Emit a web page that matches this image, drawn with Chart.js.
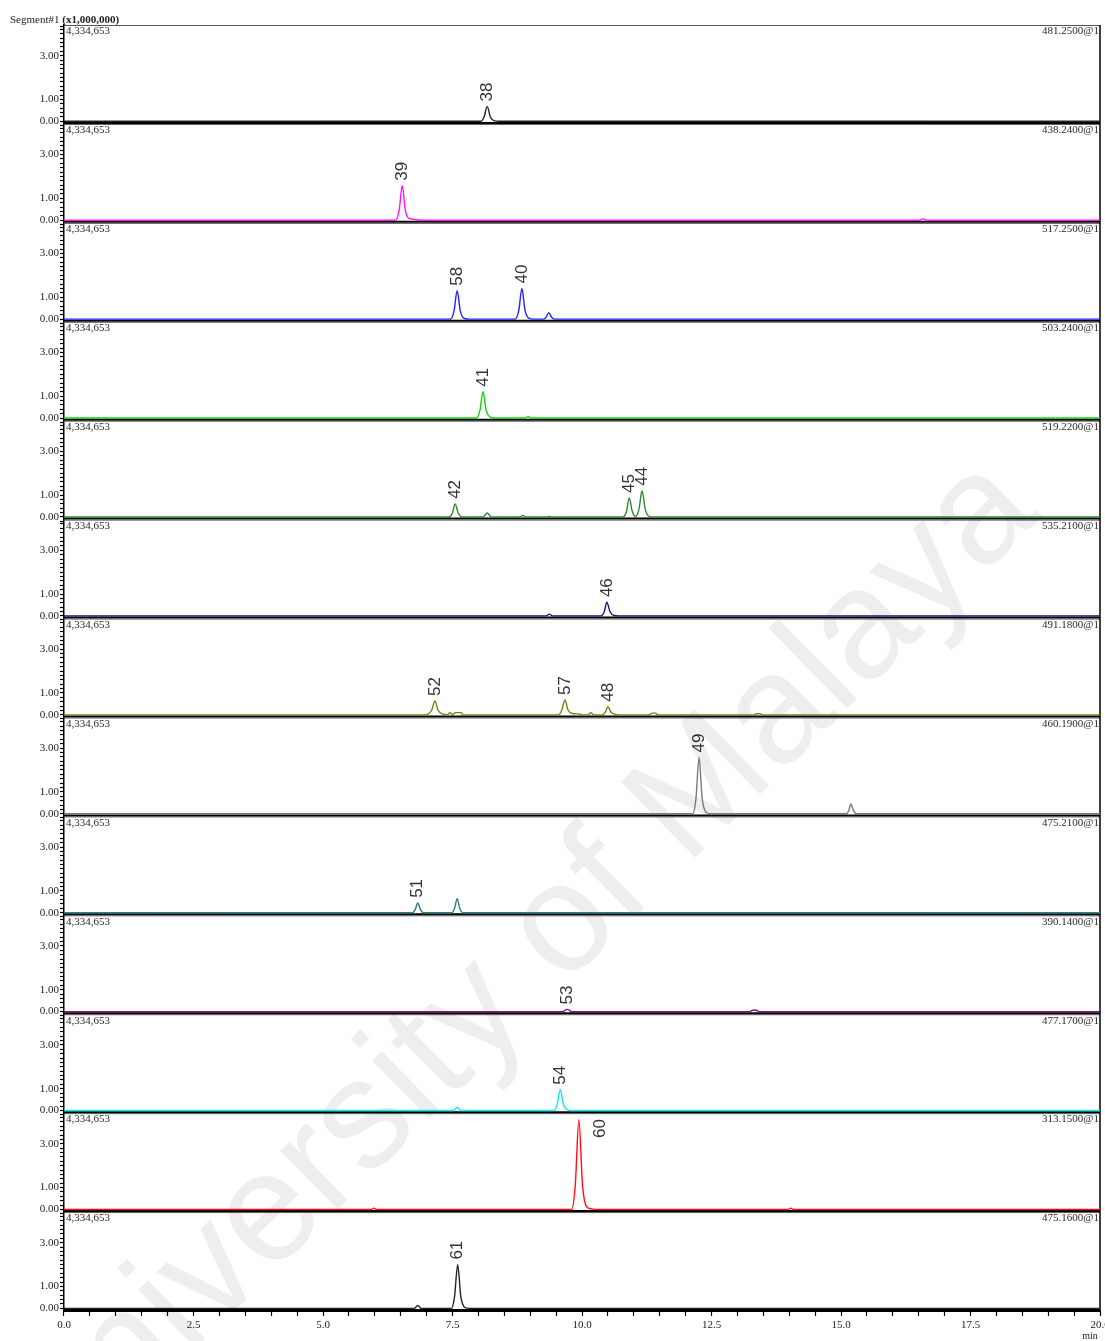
<!DOCTYPE html>
<html>
<head>
<meta charset="utf-8">
<script src="https://cdn.jsdelivr.net/npm/chart.js@4/dist/chart.umd.min.js"></script>
<style>
  html, body { margin: 0; padding: 0; background: #fff; }
  #wrap { width: 1105px; height: 1341px; }
</style>
</head>
<body>
<div id="wrap"><canvas id="chrom" width="1105" height="1341"></canvas></div>
<script>
// ---- time axis (minutes) and intensity axis (x1,000,000 counts) ----
const X_TICK_VALUES = [0, 2.5, 5, 7.5, 10, 12.5, 15, 17.5, 20];
const X_TICK_LABELS = ['0.0', '2.5', '5.0', '7.5', '10.0', '12.5', '15.0', '17.5', '20.0'];
const Y_TICK_VALUES = [0, 1, 3];
const Y_TICK_LABELS = ['0.00', '1.00', '3.00'];
const Y_FULL_SCALE = 4.334653;
const FULL_SCALE_LABEL = '4,334,653';

// ---- channels (m/z @ segment), top to bottom ----
const CHANNELS = ['481.2500@1', '438.2400@1', '517.2500@1', '503.2400@1', '519.2200@1', '535.2100@1',
                  '491.1800@1', '460.1900@1', '475.2100@1', '390.1400@1', '477.1700@1', '313.1500@1', '475.1600@1'];
const COLORS = ['#222222', '#ff10ff', '#2323ff', '#10d010', '#2f8a2f', '#15157a',
                '#7f7f10', '#7a7a7a', '#2a7f7f', '#7f107f', '#10e8f0', '#ff1010', '#222222'];

// ---- traces: [time (min), intensity (x1e6)] ----
const trace481 = [[0,0],[8.04,0],[8.11,0.2],[8.17,0.68],[8.23,0.2],[8.31,0.02],[8.4,0],[20,0]];
const trace438 = [[0,0],[6.40,0],[6.47,0.45],[6.53,1.58],[6.59,0.45],[6.66,0.08],[6.76,0.04],[6.86,0],
                  [16.50,0],[16.58,0.06],[16.66,0],[20,0]];
const trace517 = [[0,0],[7.46,0],[7.53,0.38],[7.59,1.30],[7.65,0.38],[7.73,0.03],[7.82,0],
                  [8.71,0],[8.78,0.4],[8.84,1.40],[8.90,0.4],[8.98,0.03],[9.06,0],
                  [9.26,0],[9.31,0.1],[9.36,0.30],[9.41,0.1],[9.47,0],[20,0]];
const trace503 = [[0,0],[7.96,0],[8.03,0.35],[8.09,1.20],[8.15,0.35],[8.23,0.04],[8.32,0],
                  [8.90,0],[8.96,0.06],[9.02,0],[20,0]];
const trace519 = [[0,0],[7.43,0],[7.50,0.18],[7.55,0.60],[7.61,0.18],[7.68,0],[8.09,0],[8.17,0.18],[8.25,0],
                  [8.80,0],[8.86,0.07],[8.92,0],[9.32,0],[9.37,0.03],[9.42,0],
                  [10.79,0],[10.86,0.26],[10.91,0.87],[10.97,0.26],[11.03,0.02],[11.10,0.36],[11.16,1.20],
                  [11.22,0.36],[11.30,0.02],[11.38,0],[20,0]];
const trace535 = [[0,0],[9.31,0],[9.37,0.08],[9.43,0],[10.36,0],[10.43,0.19],[10.48,0.63],[10.54,0.19],
                  [10.62,0.02],[10.7,0],[20,0]];
const trace491 = [[0,0],[6.95,0],[7.04,0.05],[7.10,0.22],[7.16,0.63],[7.22,0.22],[7.30,0.04],[7.40,0],
                  [7.45,0.1],[7.50,0],[7.56,0.1],[7.66,0.1],[7.70,0],[9.55,0],[9.61,0.22],[9.67,0.68],
                  [9.73,0.22],[9.82,0.06],[9.95,0.04],[10.0,0],[10.12,0],[10.17,0.1],[10.22,0],
                  [10.40,0],[10.45,0.12],[10.50,0.37],[10.56,0.12],[10.64,0.02],[10.70,0],
                  [11.30,0],[11.35,0.08],[11.42,0.08],[11.46,0],[13.32,0],[13.37,0.05],[13.44,0.05],[13.48,0],[20,0]];
const trace460 = [[0,0],[12.14,0],[12.20,0.7],[12.26,2.57],[12.32,0.7],[12.40,0.06],[12.5,0],
                  [15.10,0],[15.15,0.14],[15.19,0.45],[15.24,0.14],[15.30,0],[20,0]];
const trace475a = [[0,0],[6.73,0],[6.78,0.14],[6.83,0.45],[6.88,0.14],[6.94,0],
                   [7.49,0],[7.54,0.2],[7.59,0.64],[7.64,0.2],[7.70,0],[20,0]];
const trace390 = [[0,0],[9.63,0],[9.67,0.06],[9.71,0.1],[9.76,0.06],[9.80,0],
                  [13.24,0],[13.28,0.05],[13.33,0.07],[13.38,0.05],[13.42,0],[20,0]];
const trace477 = [[0,0],[7.52,0],[7.59,0.15],[7.66,0],[9.46,0],[9.52,0.28],[9.58,0.95],[9.64,0.28],
                  [9.72,0.03],[9.80,0],[20,0]];
const trace313 = [[0,0],[5.93,0],[5.98,0.06],[6.03,0],[9.80,0],[9.87,1.1],[9.94,4.10],[10.01,1.1],
                  [10.09,0.12],[10.18,0.03],[10.26,0],[13.98,0],[14.03,0.06],[14.08,0],[20,0]];
const trace475b = [[0,0],[6.76,0],[6.83,0.13],[6.90,0],[7.48,0],[7.54,0.55],[7.60,2.00],[7.66,0.55],
                   [7.74,0.04],[7.82,0],[20,0]];
const TRACES = [trace481, trace438, trace517, trace503, trace519, trace535, trace491,
                trace460, trace475a, trace390, trace477, trace313, trace475b];

// ---- compound numbers annotated on peaks, with their retention times ----
const PEAK_IDS = [['38'], ['39'], ['58', '40'], ['41'], ['42', '45', '44'], ['46'], ['52', '57', '48'],
                  ['49'], ['51'], ['53'], ['54'], ['60'], ['61']];
const PEAK_TIMES = [[8.17], [6.53], [7.59, 8.84], [8.09], [7.55, 10.91, 11.16], [10.48], [7.16, 9.67, 10.50],
                    [12.26], [6.83], [9.71], [9.58], [9.94], [7.60]];

// ---- axis range of every panel ----
const Y_MIN = -0.12;
const Y_MAX = 4.40;

const SERIF = '"Liberation Serif", "Times New Roman", serif';
const SANS = '"Liberation Sans", Arial, sans-serif';

const yMinorTicks = [];
for (let v = 0; v <= 4.21; v += 0.2) yMinorTicks.push(Math.round(v * 10) / 10);
yMinorTicks.push(Y_FULL_SCALE);
const xMinorTicks = [];
for (let v = 0; v <= 20; v += 0.5) xMinorTicks.push(v);

function yLabel(v) {
  const k = Y_TICK_VALUES.findIndex(t => Math.abs(t - v) < 1e-6);
  return k >= 0 ? Y_TICK_LABELS[k] : '';
}
function xLabel(v) {
  const k = X_TICK_VALUES.findIndex(t => Math.abs(t - v) < 1e-6);
  return k >= 0 ? X_TICK_LABELS[k] : '';
}

const scales = {
  x: {
    type: 'linear', position: 'bottom', min: 0, max: 20,
    afterBuildTicks: s => { s.ticks = xMinorTicks.map(v => ({ value: v })); },
    ticks: { autoSkip: false, maxRotation: 0, padding: 3, color: '#222',
             font: { family: SERIF, size: 11 }, callback: v => xLabel(v) },
    grid: { drawOnChartArea: false, drawTicks: true, tickLength: 5, color: '#000', tickColor: '#000', tickWidth: 1.2 },
    border: { display: true, color: '#000', width: 2 },
    afterFit: s => { s.height = 30; s.paddingLeft = 0; s.paddingRight = 0; }
  }
};
CHANNELS.forEach((ch, i) => {
  scales['y' + i] = {
    type: 'linear', position: 'left', stack: 'panels', stackWeight: 1, weight: CHANNELS.length - i,
    min: Y_MIN, max: Y_MAX, offset: false,
    afterBuildTicks: s => { s.ticks = yMinorTicks.map(v => ({ value: v })); },
    ticks: { autoSkip: false, padding: 1, color: '#222', font: { family: SERIF, size: 11 },
             callback: v => yLabel(v) },
    grid: { drawOnChartArea: false, drawTicks: true, tickLength: 4, color: '#000', tickColor: '#000', tickWidth: 1.2 },
    border: { display: true, color: '#000', width: 1.5 },
    afterFit: s => { s.width = 64; s.paddingTop = 0; s.paddingBottom = 0; }
  };
});

const datasets = TRACES.map((tr, i) => ({
  label: CHANNELS[i],
  data: tr,
  yAxisID: 'y' + i,
  xAxisID: 'x',
  borderColor: COLORS[i],
  borderWidth: 1.4,
  pointRadius: 0,
  fill: false,
  cubicInterpolationMode: 'monotone',
  clip: false
}));

const decorations = {
  id: 'decorations',
  beforeDraw(chart) {
    const ctx = chart.ctx;
    ctx.save();
    ctx.fillStyle = '#fff';
    ctx.fillRect(0, 0, chart.width, chart.height);
    // watermark
    ctx.translate(515, 975);
    ctx.rotate(-44.5 * Math.PI / 180);
    ctx.font = '155px ' + SANS;
    ctx.fillStyle = 'rgba(0,0,0,0.065)';
    ctx.textAlign = 'center';
    ctx.textBaseline = 'middle';
    ctx.fillText('University of Malaya', 0, 0);
    ctx.restore();
  },
  beforeDatasetsDraw(chart) {
    const ctx = chart.ctx;
    const area = chart.chartArea;
    ctx.save();
    CHANNELS.forEach((ch, i) => {
      const s = chart.scales['y' + i];
      ctx.strokeStyle = '#555';
      ctx.lineWidth = 1;
      ctx.beginPath();
      ctx.moveTo(area.left, s.top + 0.5);
      ctx.lineTo(area.right, s.top + 0.5);
      ctx.stroke();
      ctx.strokeStyle = '#000';
      ctx.lineWidth = 2;
      ctx.beginPath();
      ctx.moveTo(area.left, s.bottom - 1);
      ctx.lineTo(area.right, s.bottom - 1);
      ctx.stroke();
    });
    ctx.strokeStyle = '#000';
    ctx.lineWidth = 1.5;
    ctx.beginPath();
    ctx.moveTo(area.right, area.top);
    ctx.lineTo(area.right, area.bottom);
    ctx.stroke();
    ctx.restore();
  },
  afterDraw(chart) {
    const ctx = chart.ctx;
    const area = chart.chartArea;
    const xs = chart.scales.x;
    ctx.save();
    // header
    ctx.textBaseline = 'middle';
    ctx.textAlign = 'left';
    ctx.fillStyle = '#222';
    ctx.font = '11px ' + SERIF;
    ctx.fillText('Segment#1', 10, 20);
    const w = ctx.measureText('Segment#1 ').width;
    ctx.font = 'bold 11px ' + SERIF;
    ctx.fillText('(x1,000,000)', 10 + w, 20);
    // unit under the time axis
    ctx.font = '10px ' + SERIF;
    ctx.textAlign = 'center';
    ctx.fillText('min', 1090, 1336);

    CHANNELS.forEach((ch, i) => {
      const s = chart.scales['y' + i];
      const top = s.getPixelForValue(Y_FULL_SCALE);
      ctx.fillStyle = '#2a2a2a';
      ctx.font = '11px ' + SERIF;
      ctx.textBaseline = 'middle';
      ctx.textAlign = 'left';
      ctx.fillText(FULL_SCALE_LABEL, area.left + 2, top + 5);
      ctx.textAlign = 'right';
      ctx.fillText(ch, area.right - 1, top + 5);

      // peak annotations, vertical text above each apex
      ctx.font = '17px ' + SANS;
      ctx.fillStyle = '#333';
      PEAK_IDS[i].forEach((id, k) => {
        const t = PEAK_TIMES[i][k];
        let apex = 0;
        TRACES[i].forEach(p => { if (Math.abs(p[0] - t) < 0.03) apex = Math.max(apex, p[1]); });
        let px = xs.getPixelForValue(t);
        const py = s.getPixelForValue(apex);
        const tw = ctx.measureText(id).width;
        let start = py - 5;
        if (start - tw < s.top + 4) {
          px += 21;
          start = s.top + 6 + tw;
        }
        ctx.save();
        ctx.translate(px, start);
        ctx.rotate(-Math.PI / 2);
        ctx.textAlign = 'left';
        ctx.textBaseline = 'middle';
        ctx.fillText(id, 0, 0);
        ctx.restore();
      });
    });
    ctx.restore();
  }
};

new Chart(document.getElementById('chrom'), {
  type: 'line',
  data: { datasets },
  options: {
    responsive: false,
    animation: false,
    devicePixelRatio: 1,
    parsing: true,
    layout: { padding: { top: 25, right: 5, left: 0, bottom: 0 } },
    plugins: { legend: { display: false }, tooltip: { enabled: false } },
    scales
  },
  plugins: [decorations]
});
</script>
</body>
</html>
